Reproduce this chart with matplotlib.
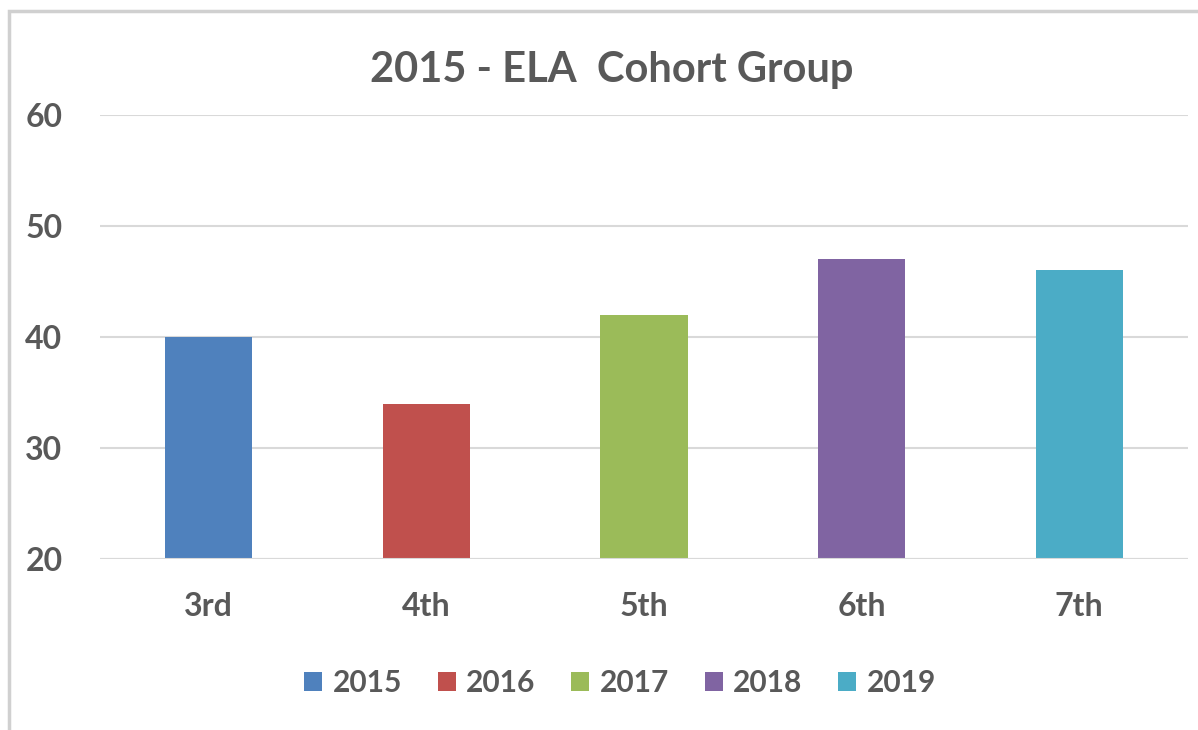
import matplotlib
matplotlib.use('Agg')
import matplotlib.pyplot as plt
from matplotlib.patches import Rectangle

grades = ['3rd', '4th', '5th', '6th', '7th']
years = ['2015', '2016', '2017', '2018', '2019']
scores = [40, 34, 42, 47, 46]
colors = ['#4F81BD', '#C0504D', '#9BBB59', '#8064A2', '#4BACC6']

plt.rcParams['font.family'] = ['Lato', 'DejaVu Sans']
txt = '#595959'

fig = plt.figure(figsize=(11.98, 7.30), dpi=100)
ax = fig.add_axes([100/1198, 171/730, 1088/1198, 444/730])

x = range(len(grades))
bars = ax.bar(x, [s - 20 for s in scores], bottom=20, width=0.4,
              color=colors, label=years, zorder=3)

ax.set_ylim(20, 60)
ax.set_xlim(-0.5, len(grades) - 0.5)
ax.set_yticks([20, 30, 40, 50, 60])
ax.set_xticks(list(x))
ax.set_xticklabels(grades)
ax.yaxis.grid(True, color='#d9d9d9', linewidth=1.5, zorder=0)
ax.axhline(20, color='#d9d9d9', linewidth=1.5, zorder=4)
for s in ax.spines.values():
    s.set_visible(False)
ax.tick_params(length=0, labelsize=23, labelcolor=txt)
ax.tick_params(axis='y', pad=27)
ax.tick_params(axis='x', pad=24)
for lab in ax.get_xticklabels() + ax.get_yticklabels():
    lab.set_fontweight('bold')

fig.text(612/1198, 1 - 70/730, '2015 - ELA  Cohort Group', ha='center', va='center',
         fontsize=30, fontweight='bold', color=txt)

leg = fig.legend(bars, years, loc='center', bbox_to_anchor=(620/1198, 1 - 683/730),
                 ncol=5, frameon=False, handlelength=0.6, handleheight=0.6,
                 handletextpad=0.35, columnspacing=1.2,
                 prop={'size': 21.5, 'weight': 'bold'})
for t in leg.get_texts():
    t.set_color(txt)

fig.patches.append(Rectangle((9/1198, -0.1), 1.2, 1 - 11/730 + 0.1, transform=fig.transFigure,
                             fill=False, edgecolor='#d0d0d0', linewidth=2.5))

fig.savefig('out.png', dpi=100)
